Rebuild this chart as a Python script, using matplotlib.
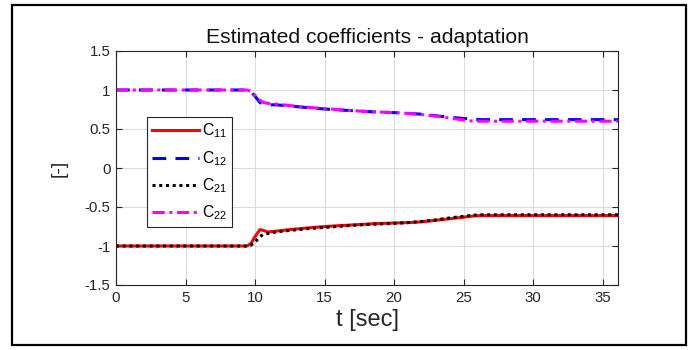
import matplotlib
matplotlib.use("Agg")
import matplotlib.pyplot as plt
from matplotlib.patches import Rectangle

plt.rcParams['font.family'] = ['Liberation Sans', 'DejaVu Sans']
plt.rcParams['mathtext.default'] = 'regular'

# time samples (s)
t = [0, 9.4, 9.7, 10.0, 10.35, 10.6, 10.9, 11.5, 12.5, 14, 15.5, 17, 18.5,
     20, 21, 22, 23, 24, 25, 25.7, 26.2, 30, 36.2]

c11 = [-1, -1, -0.97, -0.88, -0.79, -0.80, -0.82, -0.81, -0.79, -0.765, -0.745,
       -0.73, -0.715, -0.705, -0.70, -0.69, -0.67, -0.65, -0.63, -0.615, -0.61,
       -0.61, -0.61]
c12 = [1, 1, 0.98, 0.92, 0.84, 0.82, 0.81, 0.81, 0.795, 0.77, 0.75, 0.735,
       0.72, 0.71, 0.70, 0.69, 0.67, 0.65, 0.635, 0.625, 0.62, 0.62, 0.62]
c21 = [-1, -1, -0.99, -0.95, -0.88, -0.85, -0.84, -0.82, -0.80, -0.775, -0.755,
       -0.735, -0.72, -0.71, -0.70, -0.685, -0.665, -0.64, -0.62, -0.605, -0.60,
       -0.60, -0.60]
c22 = [1, 1, 0.985, 0.93, 0.87, 0.84, 0.83, 0.82, 0.80, 0.775, 0.755, 0.735,
       0.72, 0.71, 0.70, 0.685, 0.665, 0.64, 0.615, 0.60, 0.60, 0.60, 0.60]

labels = ['C$_{11}$', 'C$_{12}$', 'C$_{21}$', 'C$_{22}$']
xticks = [0, 5, 10, 15, 20, 25, 30, 35]
yticks = [-1.5, -1, -0.5, 0, 0.5, 1, 1.5]
ytick_labels = ['-1.5', '-1', '-0.5', '0', '0.5', '1', '1.5']

fig = plt.figure(figsize=(6.93, 3.5), dpi=100)
ax = fig.add_axes([116/693, 65/350, 502/693, 234/350])

ax.plot(t, c11, color='#ff0000', lw=2.2, ls='-', label=labels[0])
ax.plot(t, c12, color='#0000ff', lw=2.2, ls=(0, (4.5, 3)), label=labels[1])
ax.plot(t, c21, color='#000000', lw=2.2, ls=(0, (1, 1.2)), label=labels[2])
ax.plot(t, c22, color='#ff00ff', lw=2.2, ls=(0, (4, 1.5, 1, 1.5)), label=labels[3])

ax.set_xlim(0, 36.1)
ax.set_ylim(-1.5, 1.5)
ax.set_xticks(xticks)
ax.set_yticks(yticks)
ax.set_yticklabels(ytick_labels)
ax.grid(True, color='#dcdcdc', lw=0.8)
ax.set_axisbelow(True)
ax.tick_params(direction='in', top=True, right=True, length=4, width=0.8,
               labelsize=10.8, labelcolor='#262626', color='#262626', pad=4)
for s in ax.spines.values():
    s.set_color('#262626')
    s.set_linewidth(0.8)

ax.set_title('Estimated coefficients - adaptation', fontsize=15.2, pad=6, color='#111111')
ax.set_xlabel('t [sec]', fontsize=17, color='#262626', labelpad=3)
ax.set_ylabel('[-]', fontsize=14, color='#262626', labelpad=12)

leg = ax.legend(loc='upper left', bbox_to_anchor=(0.062, 0.718), borderaxespad=0,
                fontsize=11.3, handlelength=3.0, handletextpad=0.2, labelspacing=0.55,
                fancybox=False, framealpha=1, borderpad=0.3)
leg.get_frame().set_edgecolor('#262626')
leg.get_frame().set_linewidth(0.8)

fig.patches.append(Rectangle((12/693, 5/350), 674/693, 340/350, transform=fig.transFigure,
                             fill=False, edgecolor='black', lw=1.6))

fig.savefig('out.png', dpi=100)
